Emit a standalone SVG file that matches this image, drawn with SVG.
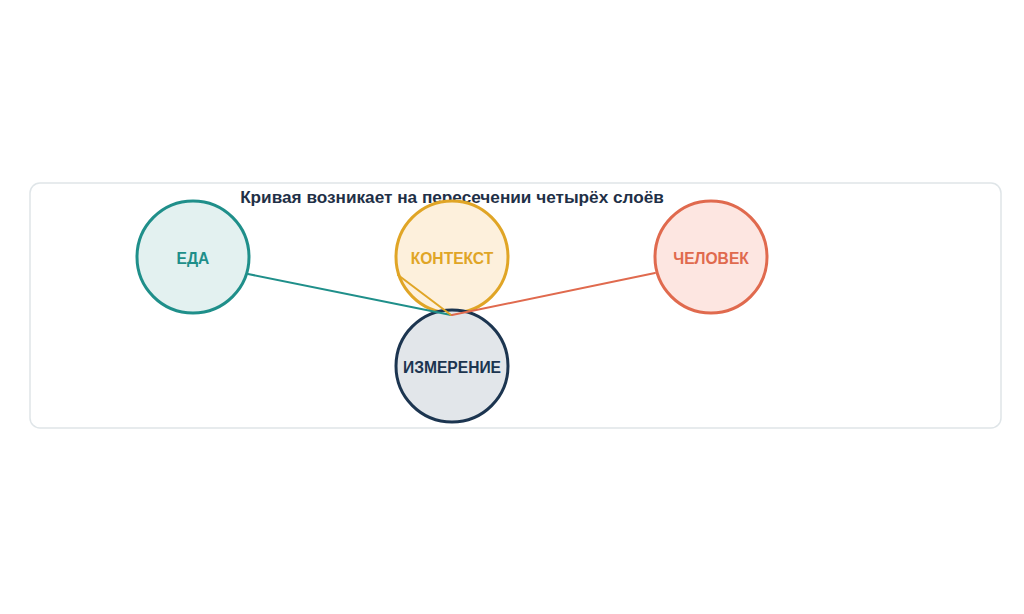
<svg xmlns="http://www.w3.org/2000/svg" width="1024" height="614" viewBox="0 0 1024 614">
<style>
.lbl{font-family:"Liberation Sans",Arial,sans-serif;font-weight:bold;font-size:15.6px;text-anchor:middle;dominant-baseline:central}
.title{font-family:"Liberation Sans",Arial,sans-serif;font-weight:bold;font-size:17.2px;text-anchor:middle;fill:#1f3047}
.n{stroke-width:3}
.c{stroke-width:2;fill:none;stroke-linecap:round}
</style>
<rect width="1024" height="614" fill="#ffffff"/>
<rect x="30" y="183" width="971" height="245" rx="10" fill="#ffffff" stroke="#dfe5e8" stroke-width="1.5"/>
<text class="title" x="452" y="203">Кривая возникает на пересечении четырёх слоёв</text>
<g id="node-eda">
<circle class="n" cx="193" cy="257" r="56" fill="#e3f1f0" stroke="#1f8f8a"/>
<text class="lbl" x="193" y="258" fill="#1f8f8a">ЕДА</text>
</g>
<g id="node-kontekst">
<circle class="n" cx="452" cy="257" r="56" fill="#fdf0dc" stroke="#e0a526"/>
<text class="lbl" x="452" y="258" fill="#e0a526">КОНТЕКСТ</text>
</g>
<g id="node-chelovek">
<circle class="n" cx="711" cy="257" r="56" fill="#fde6e1" stroke="#e06a4e"/>
<text class="lbl" x="711" y="258" fill="#e06a4e">ЧЕЛОВЕК</text>
</g>
<g id="node-izmerenie">
<circle class="n" cx="452" cy="366" r="56" fill="#e2e6ea" stroke="#1c3550"/>
<text class="lbl" x="452" y="367" fill="#1c3550">ИЗМЕРЕНИЕ</text>
</g>
<g id="connectors">
<line class="c" x1="248" y1="274" x2="451" y2="315" stroke="#1f8f8a"/>
<line class="c" x1="398" y1="275" x2="451" y2="315" stroke="#e0a526"/>
<line class="c" x1="655" y1="273" x2="452" y2="315" stroke="#e06a4e"/>
</g>
</svg>
